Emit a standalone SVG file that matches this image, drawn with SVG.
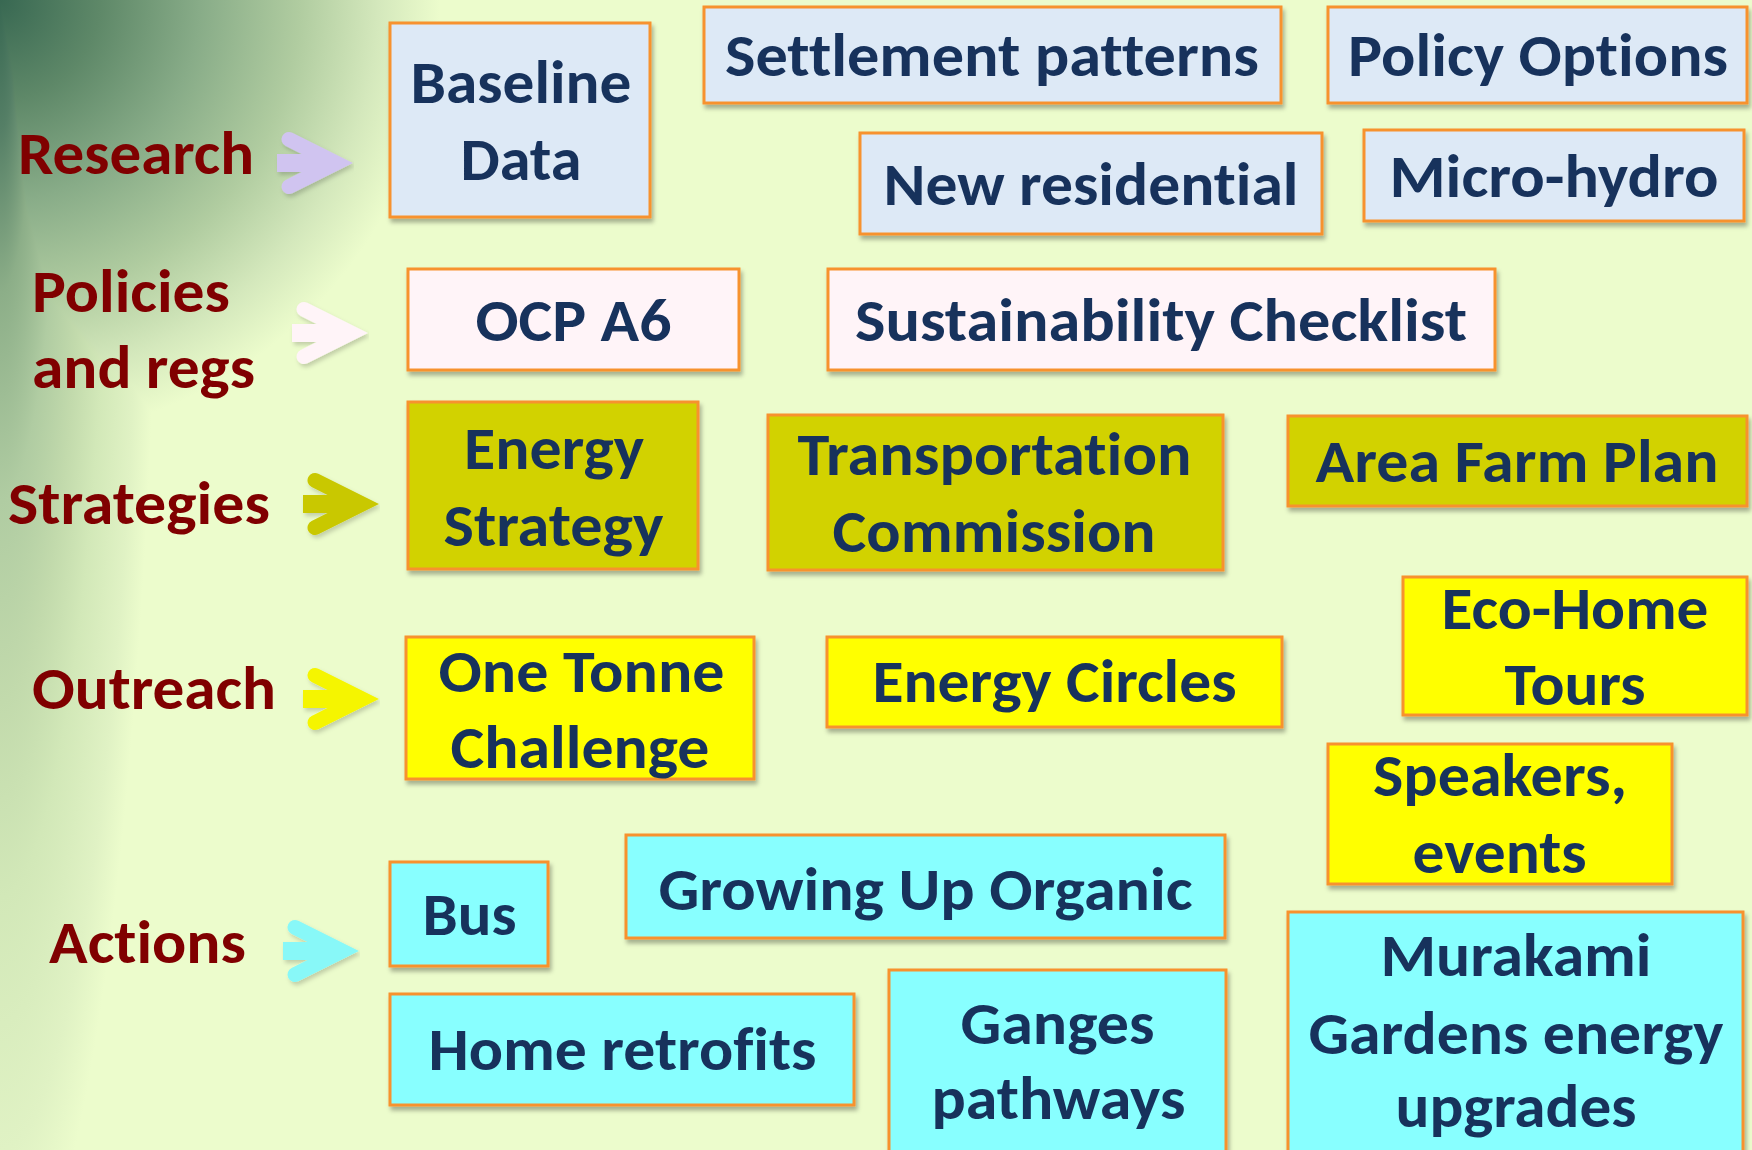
<svg xmlns="http://www.w3.org/2000/svg" width="1752" height="1150" viewBox="0 0 1752 1150">
  <defs>
    <radialGradient id="bgA" gradientUnits="userSpaceOnUse" cx="0" cy="0" r="440">
      <stop offset="0" stop-color="#386852"/>
      <stop offset="0.227" stop-color="#5e8868"/>
      <stop offset="0.455" stop-color="#88ac88"/>
      <stop offset="0.68" stop-color="#b0cca0"/>
      <stop offset="0.86" stop-color="#d4e8bc"/>
      <stop offset="1" stop-color="#ecfccc"/>
    </radialGradient>
    <radialGradient id="bgB" cx="0.5" cy="0.5" r="0.5">
      <stop offset="0" stop-color="#386852"/>
      <stop offset="0.1" stop-color="#557f66"/>
      <stop offset="0.225" stop-color="#8cae88"/>
      <stop offset="0.385" stop-color="#b0cca2"/>
      <stop offset="0.54" stop-color="#c2daac"/>
      <stop offset="0.69" stop-color="#d2e8b8"/>
      <stop offset="0.885" stop-color="#e0f2c4"/>
      <stop offset="1" stop-color="#ecfccc"/>
    </radialGradient>
    <filter id="shadow" x="-10%" y="-10%" width="130%" height="140%">
      <feDropShadow dx="2" dy="4" stdDeviation="2" flood-color="#000" flood-opacity="0.3"/>
    </filter>
    <filter id="ashadow" x="-20%" y="-20%" width="150%" height="150%">
      <feDropShadow dx="2" dy="3" stdDeviation="2" flood-color="#000" flood-opacity="0.18"/>
    </filter>
  </defs>
  <style>
    .box { stroke: #f7922e; stroke-width: 3; filter: url(#shadow); }
    .r { fill: #dde9f6; }
    .p { fill: #fff4f8; }
    .s { fill: #d2d200; }
    .o { fill: #ffff00; }
    .a { fill: #88ffff; }
    .t { font-family: Carlito, Lato, "Liberation Sans", sans-serif; font-weight: bold; font-size: 60px; fill: #17325c; text-anchor: middle; font-variant-ligatures: none; }
    .lab { font-family: Carlito, Lato, "Liberation Sans", sans-serif; font-weight: bold; font-size: 60px; fill: #800000; font-variant-ligatures: none; }
    .arm { fill: none; stroke-width: 15; stroke-linejoin: miter; stroke-linecap: round; }
  </style>

  <g id="background">
    <rect x="0" y="0" width="1752" height="1150" fill="#ecfccc"/>
    <rect x="0" y="0" width="1752" height="1150" fill="url(#bgA)"/>
    <rect x="-160" y="-1300" width="320" height="2600" fill="url(#bgB)" style="mix-blend-mode:darken"/>
  </g>

  <g id="label-research"><text class="lab" x="18" y="174" textLength="236" lengthAdjust="spacingAndGlyphs">Research</text></g>
  <g id="label-policies">
    <text class="lab" x="32" y="312" textLength="198" lengthAdjust="spacingAndGlyphs">Policies</text>
    <text class="lab" x="32" y="388" textLength="223" lengthAdjust="spacingAndGlyphs">and regs</text>
  </g>
  <g id="label-strategies"><text class="lab" x="8" y="524" textLength="262" lengthAdjust="spacingAndGlyphs">Strategies</text></g>
  <g id="label-outreach"><text class="lab" x="32" y="709" textLength="244" lengthAdjust="spacingAndGlyphs">Outreach</text></g>
  <g id="label-actions"><text class="lab" x="49" y="963" textLength="197" lengthAdjust="spacingAndGlyphs">Actions</text></g>

  <g id="connectors">
    <g transform="translate(353,163)" filter="url(#ashadow)">
      <polyline class="arm" stroke="#d0c4f0" points="-64,-23.6 -16.8,0 -64,23.6"/>
      <rect x="-76" y="-9" width="50" height="18" fill="#d0c4f0"/>
    </g>
    <g transform="translate(368,333)" filter="url(#ashadow)">
      <polyline class="arm" stroke="#fff4f8" points="-64,-23.6 -16.8,0 -64,23.6"/>
      <rect x="-76" y="-9" width="50" height="18" fill="#fff4f8"/>
    </g>
    <g transform="translate(379,504)" filter="url(#ashadow)">
      <polyline class="arm" stroke="#c9c802" points="-64,-23.6 -16.8,0 -64,23.6"/>
      <rect x="-76" y="-9" width="50" height="18" fill="#c9c802"/>
    </g>
    <g transform="translate(379,699)" filter="url(#ashadow)">
      <polyline class="arm" stroke="#f5f500" points="-64,-23.6 -16.8,0 -64,23.6"/>
      <rect x="-76" y="-9" width="50" height="18" fill="#f5f500"/>
    </g>
    <g transform="translate(359,951)" filter="url(#ashadow)">
      <polyline class="arm" stroke="#88f8f8" points="-64,-23.6 -16.8,0 -64,23.6"/>
      <rect x="-76" y="-9" width="50" height="18" fill="#88f8f8"/>
    </g>
  </g>

  <!-- Research -->
  <g id="baseline-data">
    <rect class="box r" x="390" y="23" width="260" height="194"/>
    <text class="t" x="521" y="103" textLength="221" lengthAdjust="spacingAndGlyphs">Baseline</text>
    <text class="t" x="521" y="180" textLength="121" lengthAdjust="spacingAndGlyphs">Data</text>
  </g>
  <g id="settlement-patterns">
    <rect class="box r" x="704" y="7" width="577" height="96"/>
    <text class="t" x="992" y="76" textLength="534" lengthAdjust="spacingAndGlyphs">Settlement patterns</text>
  </g>
  <g id="policy-options">
    <rect class="box r" x="1328" y="7" width="419" height="96"/>
    <text class="t" x="1538" y="76" textLength="380" lengthAdjust="spacingAndGlyphs">Policy Options</text>
  </g>
  <g id="new-residential">
    <rect class="box r" x="860" y="133" width="462" height="101"/>
    <text class="t" x="1091" y="205" textLength="415" lengthAdjust="spacingAndGlyphs">New residential</text>
  </g>
  <g id="micro-hydro">
    <rect class="box r" x="1364" y="130" width="380" height="91"/>
    <text class="t" x="1554" y="197" textLength="329" lengthAdjust="spacingAndGlyphs">Micro-hydro</text>
  </g>

  <!-- Policies -->
  <g id="ocp-a6">
    <rect class="box p" x="408" y="269" width="331" height="101"/>
    <text class="t" x="573.5" y="341" textLength="196" lengthAdjust="spacingAndGlyphs">OCP A6</text>
  </g>
  <g id="sustainability-checklist">
    <rect class="box p" x="828" y="269" width="667" height="101"/>
    <text class="t" x="1161" y="341" textLength="612" lengthAdjust="spacingAndGlyphs">Sustainability Checklist</text>
  </g>

  <!-- Strategies -->
  <g id="energy-strategy">
    <rect class="box s" x="408" y="402" width="290" height="167"/>
    <text class="t" x="554" y="469" textLength="180" lengthAdjust="spacingAndGlyphs">Energy</text>
    <text class="t" x="553.5" y="546" textLength="220" lengthAdjust="spacingAndGlyphs">Strategy</text>
  </g>
  <g id="transportation-commission">
    <rect class="box s" x="768" y="415" width="455" height="155"/>
    <text class="t" x="994.5" y="475" textLength="394" lengthAdjust="spacingAndGlyphs">Transportation</text>
    <text class="t" x="994" y="552" textLength="323" lengthAdjust="spacingAndGlyphs">Commission</text>
  </g>
  <g id="area-farm-plan">
    <rect class="box s" x="1288" y="416" width="459" height="90"/>
    <text class="t" x="1517" y="482" textLength="403" lengthAdjust="spacingAndGlyphs">Area Farm Plan</text>
  </g>

  <!-- Outreach -->
  <g id="one-tonne-challenge">
    <rect class="box o" x="406" y="637" width="348" height="142"/>
    <text class="t" x="581.5" y="692" textLength="286" lengthAdjust="spacingAndGlyphs">One Tonne</text>
    <text class="t" x="580" y="768" textLength="259" lengthAdjust="spacingAndGlyphs">Challenge</text>
  </g>
  <g id="energy-circles">
    <rect class="box o" x="827" y="637" width="455" height="90"/>
    <text class="t" x="1054.5" y="702" textLength="364" lengthAdjust="spacingAndGlyphs">Energy Circles</text>
  </g>
  <g id="eco-home-tours">
    <rect class="box o" x="1403" y="577" width="344" height="138"/>
    <text class="t" x="1575" y="629" textLength="267" lengthAdjust="spacingAndGlyphs">Eco-Home</text>
    <text class="t" x="1575" y="705" textLength="141" lengthAdjust="spacingAndGlyphs">Tours</text>
  </g>
  <g id="speakers-events">
    <rect class="box o" x="1328" y="744" width="344" height="140"/>
    <text class="t" x="1500" y="796" textLength="254" lengthAdjust="spacingAndGlyphs">Speakers,</text>
    <text class="t" x="1499.5" y="873" textLength="174" lengthAdjust="spacingAndGlyphs">events</text>
  </g>

  <!-- Actions -->
  <g id="bus">
    <rect class="box a" x="390" y="862" width="158" height="104"/>
    <text class="t" x="469.5" y="935" textLength="94" lengthAdjust="spacingAndGlyphs">Bus</text>
  </g>
  <g id="growing-up-organic">
    <rect class="box a" x="626" y="835" width="599" height="103"/>
    <text class="t" x="925.5" y="910" textLength="534" lengthAdjust="spacingAndGlyphs">Growing Up Organic</text>
  </g>
  <g id="home-retrofits">
    <rect class="box a" x="390" y="994" width="464" height="111"/>
    <text class="t" x="622.5" y="1070" textLength="388" lengthAdjust="spacingAndGlyphs">Home retrofits</text>
  </g>
  <g id="ganges-pathways">
    <rect class="box a" x="889" y="970" width="337" height="210"/>
    <text class="t" x="1057.5" y="1044" textLength="194" lengthAdjust="spacingAndGlyphs">Ganges</text>
    <text class="t" x="1058.5" y="1119" textLength="254" lengthAdjust="spacingAndGlyphs">pathways</text>
  </g>
  <g id="murakami-gardens">
    <rect class="box a" x="1288" y="912" width="455" height="270"/>
    <text class="t" x="1516" y="976" textLength="271" lengthAdjust="spacingAndGlyphs">Murakami</text>
    <text class="t" x="1516" y="1054" textLength="415" lengthAdjust="spacingAndGlyphs">Gardens energy</text>
    <text class="t" x="1516" y="1127" textLength="241" lengthAdjust="spacingAndGlyphs">upgrades</text>
  </g>
</svg>
